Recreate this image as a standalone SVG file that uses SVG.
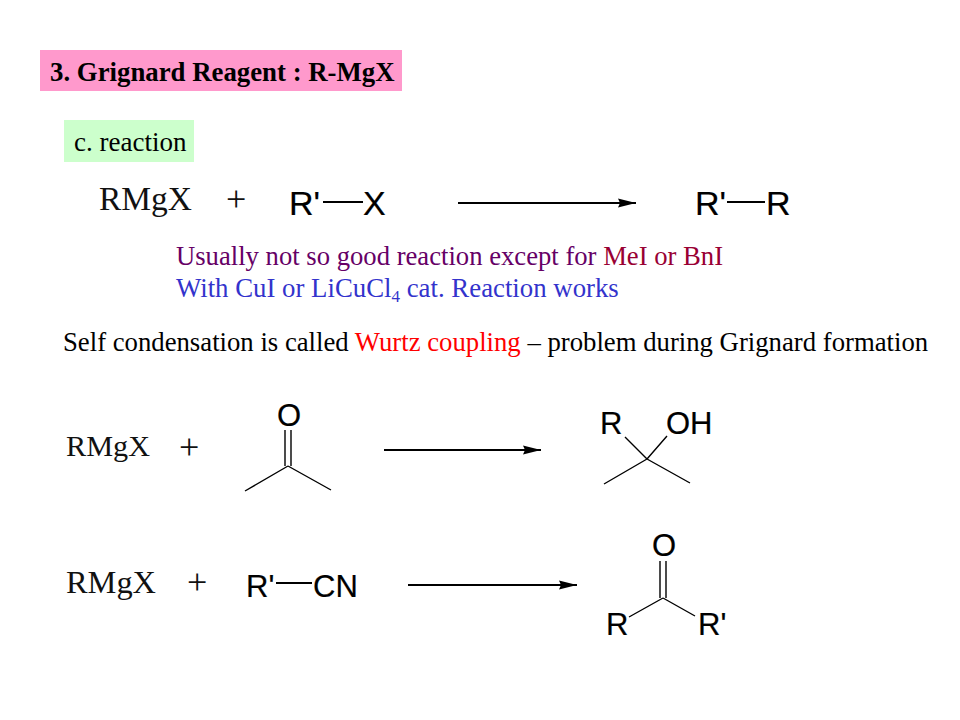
<svg xmlns="http://www.w3.org/2000/svg" width="960" height="720" viewBox="0 0 960 720">
<style>
.s{font-family:"Liberation Serif","Times New Roman",serif;fill:#000}
.t{font-size:26.67px}
.m{font-family:"Liberation Serif","Times New Roman",serif;fill:#111}
.p{font-size:36px;font-family:"Liberation Serif","Times New Roman",serif;fill:#111}
.h{font-family:"Liberation Sans",Arial,sans-serif;font-size:34px;fill:#000;stroke:#000;stroke-width:.2}
.k{font-size:31px}
.b{stroke:#000;stroke-width:1.4;fill:none}
.c{stroke:#000;stroke-width:2;fill:none}
.a{stroke:#000;stroke-width:2;fill:none;marker-end:url(#ah)}
</style>
<defs><marker id="ah" markerUnits="userSpaceOnUse" markerWidth="20" markerHeight="10" refX="18" refY="4.5" orient="auto" overflow="visible"><path d="M0 0L18 4.5L0 9L2 4.5Z" fill="#000"/></marker></defs>
<rect width="960" height="720" fill="#fff"/>
<g id="title"><rect x="40" y="50" width="362" height="41" fill="#ff99cc"/><text class="s" x="50" y="81" font-size="26.8" font-weight="bold">3. Grignard Reagent : R-MgX</text></g>
<g id="subtitle"><rect x="64" y="120" width="130" height="42" fill="#ccffcc"/><text class="s" x="74" y="151" font-size="27">c. reaction</text></g>
<g id="notes">
<text class="s t" x="176" y="265" style="fill:#660066">Usually not so good reaction except for <tspan style="fill:#990033">MeI or BnI</tspan></text>
<text class="s" font-size="26.8" x="176" y="297" style="fill:#3333cc">With CuI or LiCuCl<tspan font-size="17" dy="5">4</tspan><tspan dy="-5"> cat. Reaction works</tspan></text>
<text class="s" font-size="26.73" x="63" y="351">Self condensation is called <tspan style="fill:#ff0000">Wurtz coupling</tspan> – problem during Grignard formation</text>
</g>
<g id="rxn1">
<text class="m" x="99" y="210" font-size="33.5" textLength="93" lengthAdjust="spacingAndGlyphs">RMgX</text>
<text class="p" x="226" y="211">+</text>
<text class="h" x="289" y="215">R'</text><text class="h" x="363" y="215">X</text>
<text class="h" x="695" y="215">R'</text><text class="h" x="766" y="215">R</text>
</g>
<g id="rxn2">
<text class="m" x="66" y="456" font-size="30" textLength="84" lengthAdjust="spacingAndGlyphs">RMgX</text>
<text class="p" x="179" y="459">+</text>
<text class="h k" x="277" y="426">O</text>
<text class="h k" x="600" y="434">R</text>
<text class="h k" x="666" y="434">OH</text>
</g>
<g id="rxn3">
<text class="m" x="66" y="593" font-size="32" textLength="90" lengthAdjust="spacingAndGlyphs">RMgX</text>
<text class="p" x="187" y="594">+</text>
<text class="h k" x="246" y="597">R'</text>
<text class="h k" x="313" y="597">CN</text>
<text class="h k" x="652" y="556">O</text>
<text class="h k" x="606" y="635">R</text>
<text class="h k" x="698" y="635">R'</text>
</g>
<g id="connectors">
<path class="c" d="M323 202H363M727 202H765M276 583H312"/>
<path class="a" d="M458 203H636"/>
<path class="a" d="M384 450H541"/>
<path class="a" d="M408 585H577"/>
<path class="b" d="M285 430V466M291 430V466M288 466L245 491M288 466L331 490"/>
<path class="b" d="M625 437L647 459M667 436L647 459M647 459L604 484M647 459L690 483"/>
<path class="b" d="M660 561V598M666 561V598M663 598L629 617M663 598L695 616"/>
</g>
</svg>
